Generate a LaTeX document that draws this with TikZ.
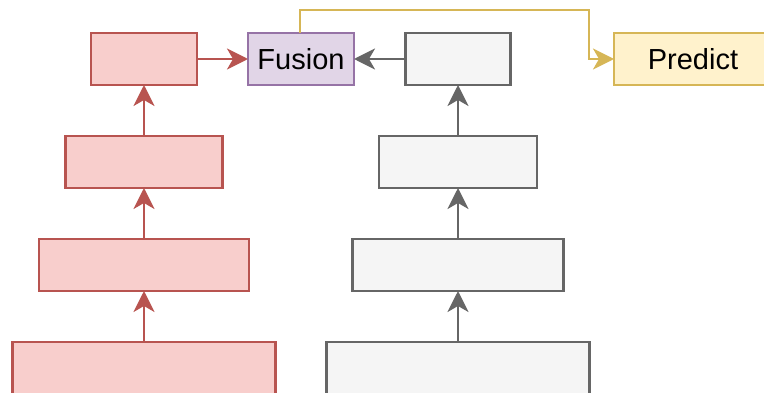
\documentclass[tikz,border=0pt]{standalone}
\usepackage{fontspec}
\setmainfont{Liberation Sans}
\usetikzlibrary{arrows.meta}
\definecolor{redfill}{HTML}{F8CECC}
\definecolor{redline}{HTML}{B85450}
\definecolor{greyfill}{HTML}{F5F5F5}
\definecolor{greyline}{HTML}{666666}
\definecolor{purpfill}{HTML}{E1D5E7}
\definecolor{purpline}{HTML}{9673A6}
\definecolor{yelfill}{HTML}{FFF2CC}
\definecolor{yelline}{HTML}{D6B656}
\tikzset{
  box/.style={rectangle, inner sep=0pt, outer sep=0pt, line width=2.6pt,
    minimum height=52pt, font=\fontsize{29}{34}\selectfont, text=black},
  redbox/.style={box, draw=redline, fill=redfill},
  greybox/.style={box, draw=greyline, fill=greyfill},
  fusebox/.style={box, draw=purpline, fill=purpfill},
  predbox/.style={box, draw=yelline, fill=yelfill},
  link/.style={line width=2.6pt, -{Stealth[length=21pt, width=21pt, inset=6pt]}},
}
\begin{document}
\begin{tikzpicture}[x=1pt, y=-1pt]
  \useasboundingbox (0,0) rectangle (764,393);

  % left encoder stack
  \node[redbox, minimum width=106pt] (r1) at (144,59) {};
  \node[redbox, minimum width=157pt] (r2) at (144,162) {};
  \node[redbox, minimum width=210pt] (r3) at (144,265) {};
  \node[redbox, minimum width=263pt, minimum height=56pt] (r4) at (144,370) {};

  % right encoder stack
  \node[greybox, minimum width=105pt] (g1) at (458,59) {};
  \node[greybox, minimum width=158pt] (g2) at (458,162) {};
  \node[greybox, minimum width=211pt] (g3) at (458,265) {};
  \node[greybox, minimum width=263pt, minimum height=56pt] (g4) at (458,370) {};

  % fusion and prediction
  \node[fusebox, minimum width=106pt] (fusion) at (301,59) {Fusion};
  \node[predbox, minimum width=158pt] (predict) at (693,59) {Predict};

  % upward flow in each stack
  \draw[link, redline] (r4.north) -- (r3.south);
  \draw[link, redline] (r3.north) -- (r2.south);
  \draw[link, redline] (r2.north) -- (r1.south);
  \draw[link, greyline] (g4.north) -- (g3.south);
  \draw[link, greyline] (g3.north) -- (g2.south);
  \draw[link, greyline] (g2.north) -- (g1.south);

  % into fusion
  \draw[link, redline] (r1.east) -- (fusion.west);
  \draw[link, greyline] (g1.west) -- (fusion.east);

  % fusion to predict
  \coordinate (c1) at (300,10);
  \coordinate (c2) at (589,10);
  \coordinate (c3) at (589,59);
  \draw[link, yelline, line width=2.4pt] (fusion.north -| c1) -- (c1) -- (c2) -- (c3) -- (predict.west);
\end{tikzpicture}
\end{document}
